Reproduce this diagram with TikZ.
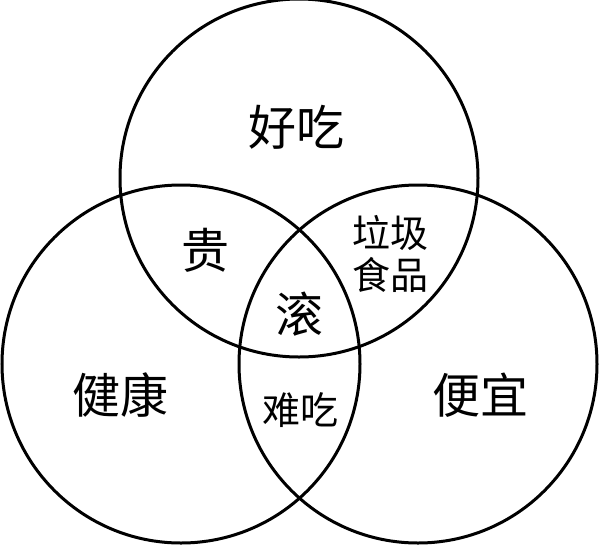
\documentclass[tikz,border=0pt]{standalone}
\usepackage{fontspec}
\newfontfamily\cjk{Noto Sans CJK SC}
\begin{document}
\begin{tikzpicture}[x=1pt,y=-1pt,
  ring/.style={draw=black,line width=3pt},
  big/.style={font=\cjk\fontsize{48}{52}\selectfont},
  small/.style={font=\cjk\fontsize{38}{42}\selectfont,align=center}]
\useasboundingbox (0,0) rectangle (600,547);
\fill[white] (0,0) rectangle (600,547);
\draw[ring] (299,178) circle (179);
\draw[ring] (181,364) circle (179);
\draw[ring] (418,364) circle (179);
\node[big] (a) at (296,127) {好吃};
\node[big] (b) at (205,250) {贵};
\node[small] (c) at (390,254) {垃圾\\食品};
\node[big] (d) at (299,314) {滚};
\node[big] (e) at (120,395) {健康};
\node[small] (f) at (300,410) {难吃};
\node[big] (g) at (480,395) {便宜};
\end{tikzpicture}
\end{document}
